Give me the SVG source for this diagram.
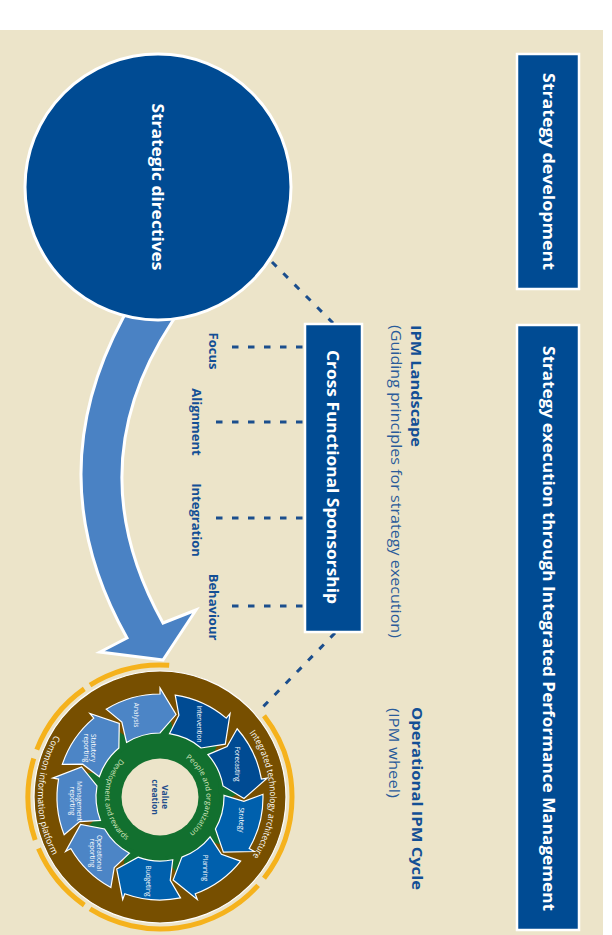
<svg xmlns="http://www.w3.org/2000/svg" width="612" height="935" viewBox="0 0 612 935">
  <style>
    .bg{fill:#ECE4C9}
    .box{fill:#004B93;stroke:#fff;stroke-width:2.5}
    .t{font-family:"Open Sans","Noto Sans","Liberation Sans",sans-serif}
    .boxtxt{font-weight:700;font-size:16px;fill:#fff;text-anchor:middle;dominant-baseline:central}
    .head{font-weight:700;font-size:15px;fill:#134F95;dominant-baseline:central}
    .sub{font-weight:400;font-size:14.5px;fill:#2A5B9A;dominant-baseline:central}
    .lbl{font-weight:700;font-size:13px;fill:#134F95;text-anchor:middle;dominant-baseline:central}
    .dash{fill:none;stroke:#1B4E8D;stroke-width:3;stroke-dasharray:6.5 9.5}
    .ring{fill:none;stroke:#F5B21C;stroke-width:5}
    .seg{stroke:#fff;stroke-width:1.2}
    .segtxt{font-size:6.5px;fill:#fff;text-anchor:middle;dominant-baseline:central}
    .arctxt{font-size:9px;fill:#fff}
    .gtxt{font-size:7.5px;fill:#D3E6BE}
    .vc{font-weight:700;font-size:8.5px;fill:#1F4E8C;text-anchor:middle;dominant-baseline:central}
  </style>
  <defs>
    <!-- one wheel segment spanning 0..40 degrees, arrow tip leading clockwise -->
    <path id="chev" d="M 102.96 2.70 A 103 103 0 0 1 86.38 56.10 L 91.42 59.37 L 60.42 58.35 L 53.67 34.86 A 64 64 0 0 0 63.98 1.68 L 83.54 8.78 Z"/>
    <!-- gear tooth of the green ring -->
    <path id="tooth" d="M 58.69 -12.47 L 87.95 -3.07 L 59.42 8.35 Z"/>
    <path id="p-ita" d="M 212.49 700.33 A 110 110 0 0 1 217.48 890.79"/>
    <path id="p-cip" d="M 100.85 690.3 A 122 122 0 0 0 97.17 901.6"/>
    <path id="p-po" d="M 157.54 750.07 A 47 47 0 0 1 162.46 843.93"/>
    <path id="p-dr" d="M 156.16 742.13 A 55 55 0 0 0 163.84 851.87"/>
  </defs>

  <rect width="612" height="935" fill="#fff"/>
  <rect class="bg" x="0" y="30" width="603" height="905"/>

  <!-- header bars -->
  <g id="strategy-development">
    <rect class="box" x="517" y="54" width="62" height="235"/>
    <text class="t boxtxt" transform="translate(549 171.5) rotate(90)" textLength="197" lengthAdjust="spacingAndGlyphs">Strategy development</text>
  </g>
  <g id="strategy-execution">
    <rect class="box" x="517" y="325" width="62" height="605"/>
    <text class="t boxtxt" transform="translate(549 628.5) rotate(90)" textLength="565" lengthAdjust="spacingAndGlyphs">Strategy execution through Integrated Performance Management</text>
  </g>

  <!-- connectors -->
  <g id="connectors">
    <path id="flow-arrow" d="M 134 298 L 123 318 Q 37 478 127 638 L 100 652 L 163 660 L 196 610 L 163 623 Q 76.5 467.5 172 322 L 185 302 Z" fill="#4A82C4" stroke="#fff" stroke-width="3" stroke-linejoin="miter"/>
    <path class="dash" d="M 272 262 L 333 323"/>
    <path class="dash" d="M 335 633 L 257 713"/>
    <path class="dash" d="M 232 347 H 305"/>
    <path class="dash" d="M 216 422 H 305"/>
    <path class="dash" d="M 216 518 H 305"/>
    <path class="dash" d="M 232 606 H 305"/>
  </g>

  <g id="strategic-directives">
    <circle cx="158" cy="187" r="133" fill="#004B93" stroke="#fff" stroke-width="3"/>
    <text class="t boxtxt" transform="translate(158 187) rotate(90)" textLength="167" lengthAdjust="spacingAndGlyphs">Strategic directives</text>
  </g>

  <g id="cross-functional-sponsorship">
    <rect class="box" x="305" y="324" width="57" height="308"/>
    <text class="t boxtxt" transform="translate(333 477) rotate(90)" textLength="254" lengthAdjust="spacingAndGlyphs">Cross Functional Sponsorship</text>
  </g>

  <g id="ipm-landscape">
    <text class="t head" transform="translate(417 325) rotate(90)" textLength="122" lengthAdjust="spacingAndGlyphs">IPM Landscape</text>
    <text class="t sub" transform="translate(396 325) rotate(90)" textLength="313" lengthAdjust="spacingAndGlyphs">(Guiding principles for strategy execution)</text>
  </g>

  <g id="principles">
    <text class="t lbl" transform="translate(214 351) rotate(90)">Focus</text>
    <text class="t lbl" transform="translate(197 422) rotate(90)">Alignment</text>
    <text class="t lbl" transform="translate(197 520) rotate(90)">Integration</text>
    <text class="t lbl" transform="translate(214 607) rotate(90)">Behaviour</text>
  </g>

  <g id="operational-ipm-cycle">
    <text class="t head" transform="translate(418 707) rotate(90)" textLength="183" lengthAdjust="spacingAndGlyphs">Operational IPM Cycle</text>
    <text class="t sub" transform="translate(394 708) rotate(90)" textLength="90" lengthAdjust="spacingAndGlyphs">(IPM wheel)</text>
  </g>

  <!-- IPM wheel -->
  <g id="ipm-wheel">
    <path class="ring" d="M 90.05 685.06 A 132 132 0 0 1 169.21 665.32"/>
    <path class="ring" d="M 36.77 749.69 A 132 132 0 0 1 84.29 688.87"/>
    <path class="ring" d="M 33.77 758.41 A 132 132 0 0 0 35.19 839.98"/>
    <path class="ring" d="M 38.49 848.58 A 132 132 0 0 0 84.29 905.13"/>
    <path class="ring" d="M 258.09 885.32 A 132 132 0 0 1 90.05 908.94"/>
    <path class="ring" d="M 264.02 715.73 A 132 132 0 0 1 264.02 878.27"/>
    <circle cx="160" cy="797" r="126" fill="#774F00" stroke="#fff" stroke-width="1.2"/>

    <g transform="translate(160 797)" fill="#12702F">
      <circle r="65"/>
      <use href="#tooth" transform="rotate(-83)"/>
      <use href="#tooth" transform="rotate(-43)"/>
      <use href="#tooth" transform="rotate(-3)"/>
      <use href="#tooth" transform="rotate(37)"/>
      <use href="#tooth" transform="rotate(77)"/>
      <use href="#tooth" transform="rotate(117)"/>
      <use href="#tooth" transform="rotate(157)"/>
      <use href="#tooth" transform="rotate(197)"/>
      <use href="#tooth" transform="rotate(237)"/>
    </g>

    <g class="seg" transform="translate(160 797)">
      <use id="seg-intervention" href="#chev" transform="rotate(-83)" fill="#004B93"/>
      <use id="seg-forecasting" href="#chev" transform="rotate(-43)" fill="#004B93"/>
      <use id="seg-strategy" href="#chev" transform="rotate(-3)" fill="#0060AD"/>
      <use id="seg-planning" href="#chev" transform="rotate(37)" fill="#0060AD"/>
      <use id="seg-budgeting" href="#chev" transform="rotate(77)" fill="#0060AD"/>
      <use id="seg-operational" href="#chev" transform="rotate(117)" fill="#4C85C6"/>
      <use id="seg-management" href="#chev" transform="rotate(157)" fill="#4C85C6"/>
      <use id="seg-statutory" href="#chev" transform="rotate(197)" fill="#4C85C6"/>
      <use id="seg-analysis" href="#chev" transform="rotate(237)" fill="#4C85C6"/>
    </g>

    <circle cx="160" cy="797" r="38.5" fill="#ECE4C9"/>

    <g class="t segtxt">
      <text transform="translate(199 724) rotate(90)">Intervention</text>
      <text transform="translate(237 764) rotate(90)">Forecasting</text>
      <text transform="translate(241 820) rotate(90)">Strategy</text>
      <text transform="translate(205 868) rotate(90)">Planning</text>
      <text transform="translate(148 881) rotate(90)">Budgeting</text>
      <g transform="translate(96 853) rotate(90)"><text y="-3.5">Operational</text><text y="3.5">reporting</text></g>
      <g transform="translate(76 801) rotate(90)"><text y="-3.5">Management</text><text y="3.5">reporting</text></g>
      <g transform="translate(90 748) rotate(90)"><text y="-3.5">Statutory</text><text y="3.5">reporting</text></g>
      <text transform="translate(136 715) rotate(90)">Analysis</text>
    </g>

    <text class="t arctxt"><textPath href="#p-ita" startOffset="50%" text-anchor="middle" textLength="131" lengthAdjust="spacingAndGlyphs">Integrated technology architecture</textPath></text>
    <text class="t arctxt"><textPath href="#p-cip" startOffset="50%" text-anchor="middle" textLength="126" lengthAdjust="spacingAndGlyphs">Common information platform</textPath></text>
    <text class="t gtxt"><textPath href="#p-po" startOffset="50%" text-anchor="middle" textLength="87" lengthAdjust="spacingAndGlyphs">People and organization</textPath></text>
    <text class="t gtxt"><textPath href="#p-dr" startOffset="50%" text-anchor="middle" textLength="92" lengthAdjust="spacingAndGlyphs">Development and rewards</textPath></text>

    <g class="t vc" transform="translate(160 797) rotate(90)">
      <text y="-5">Value</text>
      <text y="5">creation</text>
    </g>
  </g>
</svg>
